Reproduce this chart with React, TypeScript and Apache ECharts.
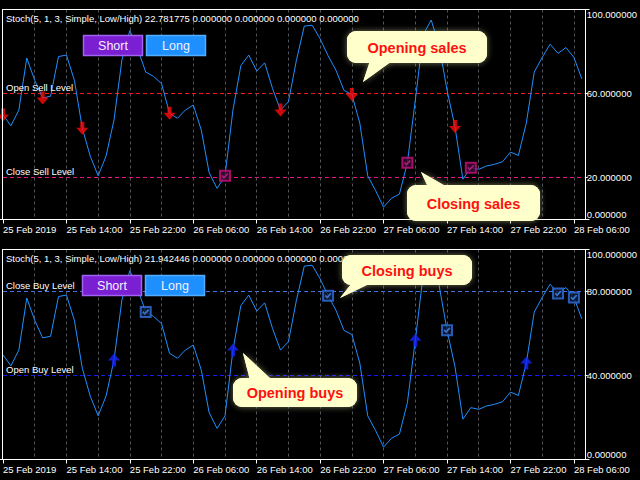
import React, { useEffect, useRef } from 'react';
import * as echarts from 'echarts';

// ---- data ----
const stochValues: number[] = [
  49.8, 44.6, 52.1, 76.9, 66.3, 57.9, 58.7, 77.6, 78.3, 66.3,
  43.5, 30.2, 20.8, 30.2, 47.4, 76.0, 90.0, 81.0, 70.2, 68.1,
  64.7, 50.6, 48.2, 52.1, 54.5, 42.7, 22.3, 14.8, 20.8, 52.1,
  73.3, 78.3, 70.7, 74.6, 62.3, 52.1, 56.1, 75.7, 92.1, 92.5,
  86.0, 78.0, 71.0, 61.5, 59.5, 45.9, 20.8, 13.7, 5.9, 10.1,
  12.1, 27.0, 56.8, 88.0, 95.0, 83.0, 61.6, 44.3, 19.2, 24.7,
  23.9, 25.5, 26.3, 27.5, 32.1, 30.5, 45.9, 70.2, 77.2, 83.5,
  79.1, 81.9, 77.2, 67.0,
];
const dayNames = ['25 Feb', '26 Feb', '27 Feb', '28 Feb'];
const firstHour = 6;
const tickLabels = [
  '25 Feb 2019', '25 Feb 14:00', '25 Feb 22:00', '26 Feb 06:00', '26 Feb 14:00',
  '26 Feb 22:00', '27 Feb 06:00', '27 Feb 14:00', '27 Feb 22:00', '28 Feb 06:00',
];
const sellOpenBars = [0, 5, 10, 21, 35, 44, 57];
const sellCloseBars = [28, 51, 59];
const buyOpenBars = [14, 29, 52, 66];
const buyCloseBars = [18, 41, 56, 70, 72];
const sellLevelValues = [60, 20];
const sellLevelNames = ['Open Sell Level', 'Close Sell Level'];
const sellLevelColors = ['#ff1a1a', '#ee1490'];
const buyLevelValues = [80, 40];
const buyLevelNames = ['Close Buy Level', 'Open Buy Level'];
const buyLevelColors = ['#4275ee', '#1a1aff'];
const topAxisValues = [0, 20, 60, 100];
const bottomAxisValues = [0, 40, 80, 100];
const headerTop = 'Stoch(5, 1, 3, Simple, Low/High) 22.781775 0.000000 0.000000 0.000000 0.000000';
const headerBottom = 'Stoch(5, 1, 3, Simple, Low/High) 21.942446 0.000000 0.000000 0.000000 0.000000';

const barTimes = stochValues.map((_, i) => {
  const h = firstHour + i;
  return `${dayNames[Math.floor(h / 24)]} ${String(h % 24).padStart(2, '0')}:00`;
});

const FONT = "'Liberation Sans', Arial, sans-serif";
const ARROW_DOWN = 'path://M4,0 L8,0 L8,6 L12,6 L6,13 L0,6 L4,6 Z';
const ARROW_UP = 'path://M6,0 L12,7 L8,7 L8,13 L4,13 L4,7 L0,7 Z';
const CHECK = 'path://M0,5 L2,3 L4,5.5 L9,0 L11,2 L4,9 Z';

const pts = (bars: number[]) => bars.map((i) => [i, stochValues[i]]);

function callout(x: number, y: number, w: number, h: number, tail: number[][], text: string) {
  const fill = '#ffffcc';
  const shadow = { shadowBlur: 6, shadowColor: 'rgba(160,160,120,0.7)' };
  const z = 200;
  return [
    { type: 'rect', z, shape: { x, y, width: w, height: h, r: 9 }, style: { fill, ...shadow } },
    { type: 'polygon', z, shape: { points: tail }, style: { fill, ...shadow } },
    { type: 'rect', z: z + 1, shape: { x, y, width: w, height: h, r: 9 }, style: { fill } },
    { type: 'polygon', z: z + 1, shape: { points: tail }, style: { fill } },
    {
      type: 'text', z: z + 2, x: x + w / 2, y: y + h / 2 + 0.5,
      style: { text, fill: '#ff1010', font: `bold 14.5px ${FONT}`, align: 'center', verticalAlign: 'middle' },
    },
  ];
}

function button(x: number, y: number, text: string, fill: string, stroke: string) {
  return [
    { type: 'rect', z: 150, shape: { x: x + 0.5, y: y + 0.5, width: 59, height: 20 }, style: { fill, stroke, lineWidth: 1.5 } },
    {
      type: 'text', z: 151, x: x + 30, y: y + 11,
      style: { text, fill: '#f4f0ff', font: `12.5px ${FONT}`, align: 'center', verticalAlign: 'middle' },
    },
  ];
}

function borders(top: number, bottom: number) {
  const ls = { stroke: '#ffffff', lineWidth: 1 };
  return [
    { type: 'line', z: 120, shape: { x1: 2, y1: top, x2: 589.5, y2: top }, style: ls },
    { type: 'line', z: 120, shape: { x1: 2.5, y1: top, x2: 2.5, y2: bottom }, style: ls },
    { type: 'line', z: 120, shape: { x1: 0, y1: bottom, x2: 589.5, y2: bottom }, style: ls },
  ];
}

export default function App() {
  const ref = useRef<HTMLDivElement>(null);
  useEffect(() => {
    document.body.style.margin = '0';
    document.body.style.background = '#000';
    const chart = echarts.init(ref.current!, null, { renderer: 'svg' });
    // heights chosen so that the level lines fall on pixel centres (crisp 1px dashes)
    const grids = [
      { left: 2, top: 9.5, width: 584, height: 210 },
      { left: 2, top: 249.5, width: 584, height: 210 },
    ];
    const xAxis = [0, 1].map((g) => ({
      type: 'category',
      gridIndex: g,
      data: barTimes,
      boundaryGap: false,
      axisLine: { show: true, lineStyle: { color: '#ffffff', width: 1 } },
      axisTick: { show: true, interval: (i: number) => i % 8 === 0, length: 4, lineStyle: { color: '#ffffff' } },
      axisLabel: {
        interval: (i: number) => i % 8 === 0,
        formatter: (_v: string, i: number) => tickLabels[i / 8] ?? '',
        color: '#ffffff', fontSize: 9.5, fontFamily: FONT, align: 'left', margin: 5,
      },
      splitLine: { show: true, interval: (i: number) => i % 4 === 0 && i > 0, lineStyle: { color: '#50565c', type: [3, 3], width: 1 } },
    }));
    const yAxis = [topAxisValues, bottomAxisValues].map((vals, g) => ({
      type: 'value',
      gridIndex: g,
      min: 0,
      max: 100,
      position: 'right',
      offset: 3,
      axisLine: { show: true, lineStyle: { color: '#ffffff' } },
      axisTick: { show: true, customValues: vals, length: 3, lineStyle: { color: '#ffffff' } },
      axisLabel: {
        customValues: vals,
        formatter: (v: number) => v.toFixed(6),
        color: '#ffffff', fontSize: 9.5, fontFamily: FONT, margin: 2,
        verticalAlignMinLabel: 'bottom', verticalAlignMaxLabel: 'top',
      },
      splitLine: { show: false },
    }));
    // level: a flat dashed line series at the level value
    const levelSeries = (g: number, value: number, color: string) => ({
      type: 'line', xAxisIndex: g, yAxisIndex: g, silent: true, symbol: 'none', z: 2,
      data: barTimes.map(() => value),
      lineStyle: { color, type: [4, 3], width: 1 },
    });
    const lineSeries = (g: number) => ({
      type: 'line', xAxisIndex: g, yAxisIndex: g, data: stochValues, symbol: 'none',
      lineStyle: { color: '#1e90ff', width: 1 }, z: 3,
    });
    const scatter = (g: number, bars: number[], symbol: string, size: any, itemStyle: any, z: number) => ({
      type: 'scatter', xAxisIndex: g, yAxisIndex: g, data: pts(bars), symbol, symbolSize: size,
      itemStyle, z, silent: true,
    });
    const staticGraphics: any[] = [
      ...borders(9.5, 219.5),
      ...borders(249.5, 459.5),
      { type: 'text', z: 100, x: 6, y: 18.5, style: { text: headerTop, fill: '#ffffff', font: `9.5px ${FONT}`, verticalAlign: 'middle' } },
      { type: 'text', z: 100, x: 6, y: 258.5, style: { text: headerBottom, fill: '#ffffff', font: `9.5px ${FONT}`, verticalAlign: 'middle' } },
      ...button(83, 35, 'Short', '#7a1fd2', '#a062f0'),
      ...button(146, 35, 'Long', '#1e8fff', '#52acff'),
      ...button(82, 275, 'Short', '#7a1fd2', '#a062f0'),
      ...button(145, 275, 'Long', '#1e8fff', '#52acff'),
      ...callout(347, 31, 140, 32, [[370, 61], [392, 61], [363, 82]], 'Opening sales'),
      ...callout(407, 185, 133, 36, [[428, 187], [447, 187], [421, 172]], 'Closing sales'),
      ...callout(342, 255, 130, 30, [[352, 283], [371, 283], [340, 298]], 'Closing buys'),
      ...callout(233, 378, 124, 29, [[250, 380], [272, 380], [243, 353]], 'Opening buys'),
    ];
    chart.setOption({
      animation: false,
      backgroundColor: '#000000',
      grid: grids,
      xAxis,
      yAxis,
      series: [
        ...sellLevelValues.map((v, k) => levelSeries(0, v, sellLevelColors[k])),
        ...buyLevelValues.map((v, k) => levelSeries(1, v, buyLevelColors[k])),
        lineSeries(0),
        lineSeries(1),
        scatter(0, sellOpenBars, ARROW_DOWN, [12, 13], { color: '#ff0a0a' }, 5),
        scatter(0, sellCloseBars, 'rect', 10, { color: '#3a0a2e', borderColor: '#c8107e', borderWidth: 2 }, 5),
        scatter(0, sellCloseBars, CHECK, [7, 6], { color: '#c0208a' }, 6),
        scatter(1, buyOpenBars, ARROW_UP, [12, 13], { color: '#1426ff' }, 5),
        scatter(1, buyCloseBars, 'rect', 10, { color: '#0d1c3a', borderColor: '#3270e0', borderWidth: 2 }, 5),
        scatter(1, buyCloseBars, CHECK, [7, 6], { color: '#4a86e8' }, 6),
      ],
      graphic: staticGraphics,
    });
    // level names, placed just above their level line through the y scale
    const levelText = (g: number, value: number, name: string) => ({
      type: 'text', z: 90, x: 6,
      y: (chart.convertToPixel({ yAxisIndex: g }, value) as number) - 1,
      style: { text: name, fill: '#ffffff', font: `9.5px ${FONT}`, verticalAlign: 'bottom' },
    });
    chart.setOption({
      graphic: [
        ...staticGraphics,
        ...sellLevelValues.map((v, k) => levelText(0, v, sellLevelNames[k])),
        ...buyLevelValues.map((v, k) => levelText(1, v, buyLevelNames[k])),
      ],
    });
    return () => chart.dispose();
  }, []);
  return <div ref={ref} style={{ width: 640, height: 480 }} />;
}
